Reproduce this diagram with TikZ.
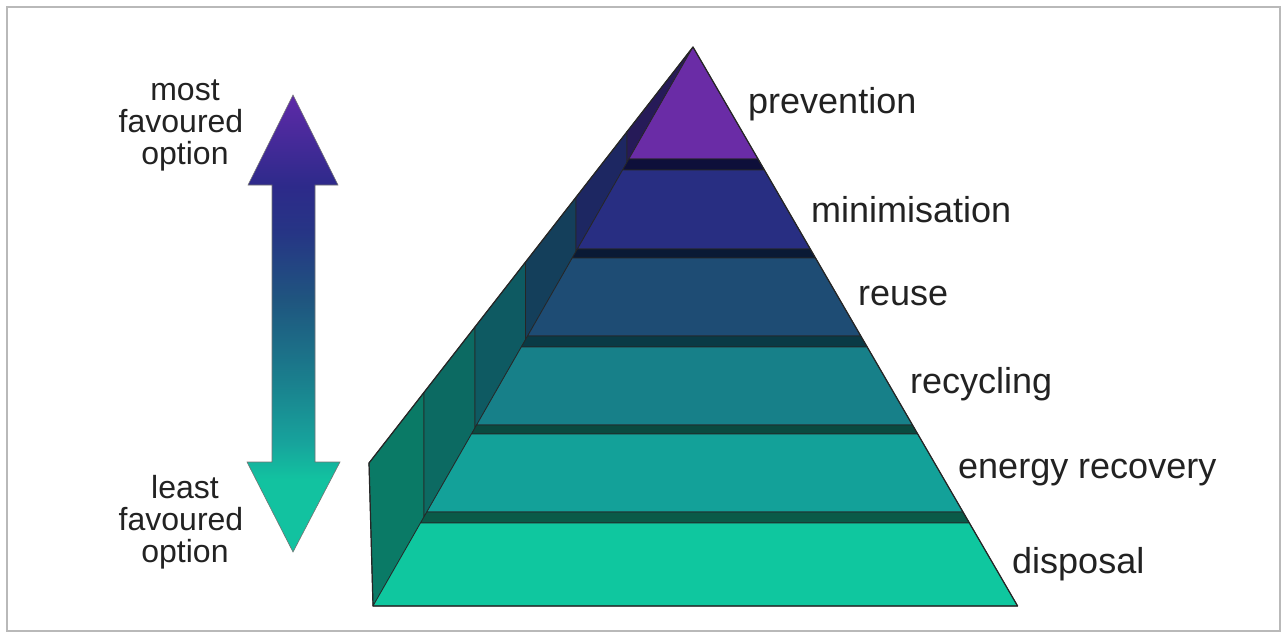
\documentclass[tikz,border=0pt]{standalone}
\usepackage{fontspec}
\setmainfont{Liberation Sans}
\definecolor{cPrev}{HTML}{6A2CA6}
\definecolor{cMin}{HTML}{282E82}
\definecolor{cReu}{HTML}{1E4C74}
\definecolor{cRec}{HTML}{178089}
\definecolor{cEne}{HTML}{13A199}
\definecolor{cDis}{HTML}{0FC79F}
\definecolor{sPrev}{HTML}{261A58}
\definecolor{sMin}{HTML}{1D2762}
\definecolor{sReu}{HTML}{143F5B}
\definecolor{sRec}{HTML}{0E5A62}
\definecolor{sEne}{HTML}{0C6A62}
\definecolor{sDis}{HTML}{0A7A66}
\definecolor{bOne}{HTML}{0E0F3A}
\definecolor{bTwo}{HTML}{0A1A35}
\definecolor{bThree}{HTML}{0A3A45}
\definecolor{bFour}{HTML}{0A4A40}
\definecolor{bFive}{HTML}{0A5A48}
\definecolor{aPurple}{HTML}{5E2AA8}
\definecolor{aNavyA}{HTML}{2D2A8A}
\definecolor{aNavyB}{HTML}{263585}
\definecolor{aSteel}{HTML}{1F557F}
\definecolor{aTealA}{HTML}{1A7E8D}
\definecolor{aTealB}{HTML}{17A39C}
\definecolor{aGreen}{HTML}{12C2A0}
\definecolor{txt}{HTML}{222222}
\pgfdeclareverticalshading{arrowshade}{100bp}{color(0bp)=(aGreen); color(25bp)=(aGreen); color(33bp)=(aGreen); color(37bp)=(aTealB); color(44bp)=(aTealA); color(52.6bp)=(aSteel); color(60bp)=(aNavyB); color(65bp)=(aNavyA); color(75bp)=(aPurple); color(100bp)=(aPurple)}
\tikzset{
  face/.style={draw=black!85, line width=0.7pt, line join=round},
  lab/.style={font=\fontsize{36}{40}\selectfont, text=txt, inner sep=0pt, anchor=base west},
  sidelab/.style={font=\fontsize{32}{36}\selectfont, text=txt, inner sep=0pt, anchor=base}
}
\begin{document}
\begin{tikzpicture}[x=1pt,y=-1pt]
\useasboundingbox (0,0) rectangle (1284,638);
\fill[white] (0,0) rectangle (1284,638);
\draw[gray!55, line width=2.5pt] (7,7) rectangle (1280,631);

% key points
\coordinate (apex) at (693,47);
\coordinate (bl) at (373,606);
\coordinate (br) at (1017.6,606);
\coordinate (back) at (369,463);

% side wall strips
\filldraw[face, fill=sDis]  (back) -- (424,392.4) -- (424,516.9) -- (bl) -- cycle;
\filldraw[face, fill=sEne]  (424,392.4) -- (475,326.9) -- (475,427.8) -- (424,516.9) -- cycle;
\filldraw[face, fill=sRec]  (475,326.9) -- (525.5,262.1) -- (525.5,339.6) -- (475,427.8) -- cycle;
\filldraw[face, fill=sReu]  (525.5,262.1) -- (576,197.2) -- (576,251.4) -- (525.5,339.6) -- cycle;
\filldraw[face, fill=sMin]  (576,197.2) -- (627,131.7) -- (627,162.3) -- (576,251.4) -- cycle;
\filldraw[face, fill=sPrev] (627,131.7) -- (apex) -- (627,162.3) -- cycle;

% front faces
\filldraw[face, fill=cPrev] (apex) -- (758.0,159) -- (628.9,159) -- cycle;
\filldraw[face, fill=bOne] (628.9,159) -- (758.0,159) -- (764.4,170) -- (622.6,170) -- cycle;
\filldraw[face, fill=cMin] (622.6,170) -- (764.4,170) -- (810.3,249) -- (577.4,249) -- cycle;
\filldraw[face, fill=bTwo] (577.4,249) -- (810.3,249) -- (815.5,258) -- (572.2,258) -- cycle;
\filldraw[face, fill=cReu] (572.2,258) -- (815.5,258) -- (860.8,336) -- (527.6,336) -- cycle;
\filldraw[face, fill=bThree] (527.6,336) -- (860.8,336) -- (867.2,347) -- (521.3,347) -- cycle;
\filldraw[face, fill=cRec] (521.3,347) -- (867.2,347) -- (912.5,425) -- (476.6,425) -- cycle;
\filldraw[face, fill=bFour] (476.6,425) -- (912.5,425) -- (917.7,434) -- (471.5,434) -- cycle;
\filldraw[face, fill=cEne] (471.5,434) -- (917.7,434) -- (963.0,512) -- (426.8,512) -- cycle;
\filldraw[face, fill=bFive] (426.8,512) -- (963.0,512) -- (969.4,523) -- (420.5,523) -- cycle;
\filldraw[face, fill=cDis] (420.5,523) -- (969.4,523) -- (br) -- (bl) -- cycle;

% outer outline
\draw[black!85, line width=1.2pt, line join=round] (back) -- (apex) -- (br) -- (bl) -- cycle;

% double arrow
\shadedraw[shading=arrowshade, draw=black!55, line width=0.6pt, line join=miter]
  (293,95) -- (338,185) -- (315,185) -- (315,462) -- (340,462) -- (293,552)
  -- (247,462) -- (272,462) -- (272,185) -- (248,185) -- cycle;

% labels
\node[lab] (prevention) at (748,113) {prevention};
\node[lab] (minimisation) at (811,222) {minimisation};
\node[lab] (reuse) at (858,305) {reuse};
\node[lab] (recycling) at (910,393) {recycling};
\node[lab] (energy) at (958,478) {energy recovery};
\node[lab] (disposal) at (1012,573) {disposal};

\node[sidelab] (mostA) at (185,100) {most};
\node[sidelab] (mostB) at (181,132) {favoured};
\node[sidelab] (mostC) at (185,164) {option};
\node[sidelab] (leastA) at (185,498) {least};
\node[sidelab] (leastB) at (181,530) {favoured};
\node[sidelab] (leastC) at (185,562) {option};
\end{tikzpicture}
\end{document}
